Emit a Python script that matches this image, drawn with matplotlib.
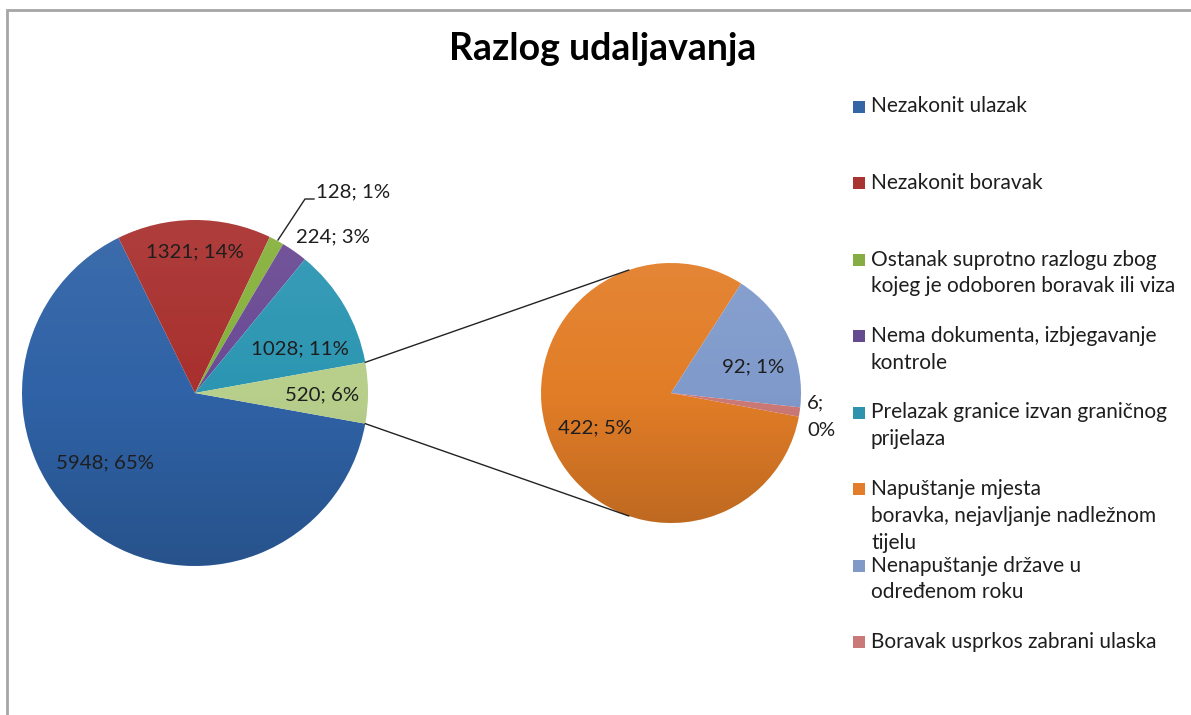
import matplotlib
matplotlib.use("Agg")
import matplotlib.pyplot as plt
import numpy as np
from matplotlib.patches import Rectangle, Circle

plt.rcParams["font.family"] = ["Lato", "DejaVu Sans"]

W, H = 1191, 715

# data
legend_labels = [
    ["Nezakonit ulazak"],
    ["Nezakonit boravak"],
    ["Ostanak suprotno razlogu zbog", "kojeg je odoboren boravak ili viza"],
    ["Nema dokumenta, izbjegavanje", "kontrole"],
    ["Prelazak granice izvan graničnog", "prijelaza"],
    ["Napuštanje mjesta", "boravka, nejavljanje nadležnom", "tijelu"],
    ["Nenapuštanje države u", "određenom roku"],
    ["Boravak usprkos zabrani ulaska"],
]
main_values = [5948, 1321, 128, 224, 1028]
main_pcts = [65, 14, 1, 3, 11]
sub_values = [422, 92, 6]
sub_pcts = [5, 1, 0]
other_pct = 6

main_colors = ["#2f62a6", "#a8302e", "#86b13c", "#6a4a94", "#2c96b2", "#b8cf8c"]
sub_colors = ["#e27d27", "#7f9acb", "#cd7a78"]
legend_colors = ["#3465a4", "#a93331", "#86ad43", "#644a8e", "#2f93ad",
                 "#e27d2c", "#8099c7", "#c97a78"]

TXT = "#1e1e1e"


def py(y):
    # pixel row (top-down) -> data y (bottom-up)
    return H - y


fig = plt.figure(figsize=(W / 100, H / 100), dpi=100)
ax = fig.add_axes([0, 0, 1, 1])

c1, r1 = (195, py(393)), 173
c2, r2 = (671, py(393)), 130

other = sum(sub_values)
vals1 = main_values + [other]
a_other = other / sum(vals1) * 360

ax.pie(vals1, colors=main_colors, center=c1, radius=r1,
       startangle=-a_other / 2, counterclock=False, frame=True,
       wedgeprops=dict(linewidth=0))
ax.pie(sub_values, colors=sub_colors, center=c2, radius=r2,
       startangle=-10.5, counterclock=False, frame=True,
       wedgeprops=dict(linewidth=0))

# soft vertical shading like the Excel gradient fill
t = np.linspace(0, 1, 256)
shade = np.zeros((256, 1, 4))
top = t < 0.5
shade[top, 0, :3] = 1.0
shade[top, 0, 3] = 0.07 * (1 - 2 * t[top])
shade[~top, 0, 3] = 0.16 * (2 * t[~top] - 1)
for (cx, cy), r in ((c1, r1), (c2, r2)):
    im = ax.imshow(shade, extent=(cx - r, cx + r, cy - r, cy + r),
                   origin="upper", aspect="auto", zorder=2,
                   interpolation="bilinear")
    im.set_clip_path(Circle((cx, cy), r, transform=ax.transData))

# connector lines between the two pies
for s in (1, -1):
    a1 = np.radians(s * a_other / 2)
    a2 = np.radians(s * 109)
    ax.plot([c1[0] + r1 * np.cos(a1), c2[0] + r2 * np.cos(a2)],
            [c1[1] + r1 * np.sin(a1), c2[1] + r2 * np.sin(a2)],
            color="#222222", lw=1.0, zorder=1)

# data labels
fs_lab = 14.7
main_pos = [(105, 463), (195, 252), None, (333, 237), (300, 349)]
for v, p, xy in zip(main_values, main_pcts, main_pos):
    if xy is None:
        continue
    ax.text(xy[0], py(xy[1]), f"{v}; {p}%", fontsize=fs_lab, color=TXT,
            ha="center", va="center", zorder=4)
ax.text(322, py(395), f"{other}; {other_pct}%", fontsize=fs_lab, color=TXT,
        ha="center", va="center", zorder=4)
# leader label for the thin green slice
ax.text(316, py(192), f"{main_values[2]}; {main_pcts[2]}%", fontsize=fs_lab,
        color=TXT, ha="left", va="center", zorder=4)
ax.plot([278, 305, 314], [py(240), py(199), py(199)], color="#222222",
        lw=1.0, zorder=3)

sub_pos = [(595, 428), (753, 367)]
for v, p, xy in zip(sub_values, sub_pcts, sub_pos):
    ax.text(xy[0], py(xy[1]), f"{v}; {p}%", fontsize=fs_lab, color=TXT,
            ha="center", va="center", zorder=4)
ax.text(807, py(403), f"{sub_values[2]};", fontsize=fs_lab, color=TXT,
        ha="left", va="center", zorder=4)
ax.text(807, py(430), f"{sub_pcts[2]}%", fontsize=fs_lab, color=TXT,
        ha="left", va="center", zorder=4)

# title
ax.text(603, py(60), "Razlog udaljavanja", fontsize=27, fontweight="bold",
        color="black", ha="center", va="baseline")

# legend, drawn by hand to match the Excel spacing
fs_leg = 15
for i, (lines, col) in enumerate(zip(legend_labels, legend_colors)):
    y0 = 106.5 + i * 76.5
    ax.add_patch(Rectangle((853, py(y0) - 6), 12, 12, facecolor=col,
                           edgecolor="none"))
    for j, s in enumerate(lines):
        ax.text(871, py(y0 + j * 26.8), s, fontsize=fs_leg, color=TXT,
                ha="left", va="center")

# chart frame (left and top edges visible)
ax.plot([7, 7, W], [0, py(10), py(10)], color="#a6a6a6", lw=2.0,
        solid_joinstyle="miter")

ax.set_xlim(0, W)
ax.set_ylim(0, H)
ax.set_aspect("auto")
ax.axis("off")

fig.savefig("out.png", dpi=100)
